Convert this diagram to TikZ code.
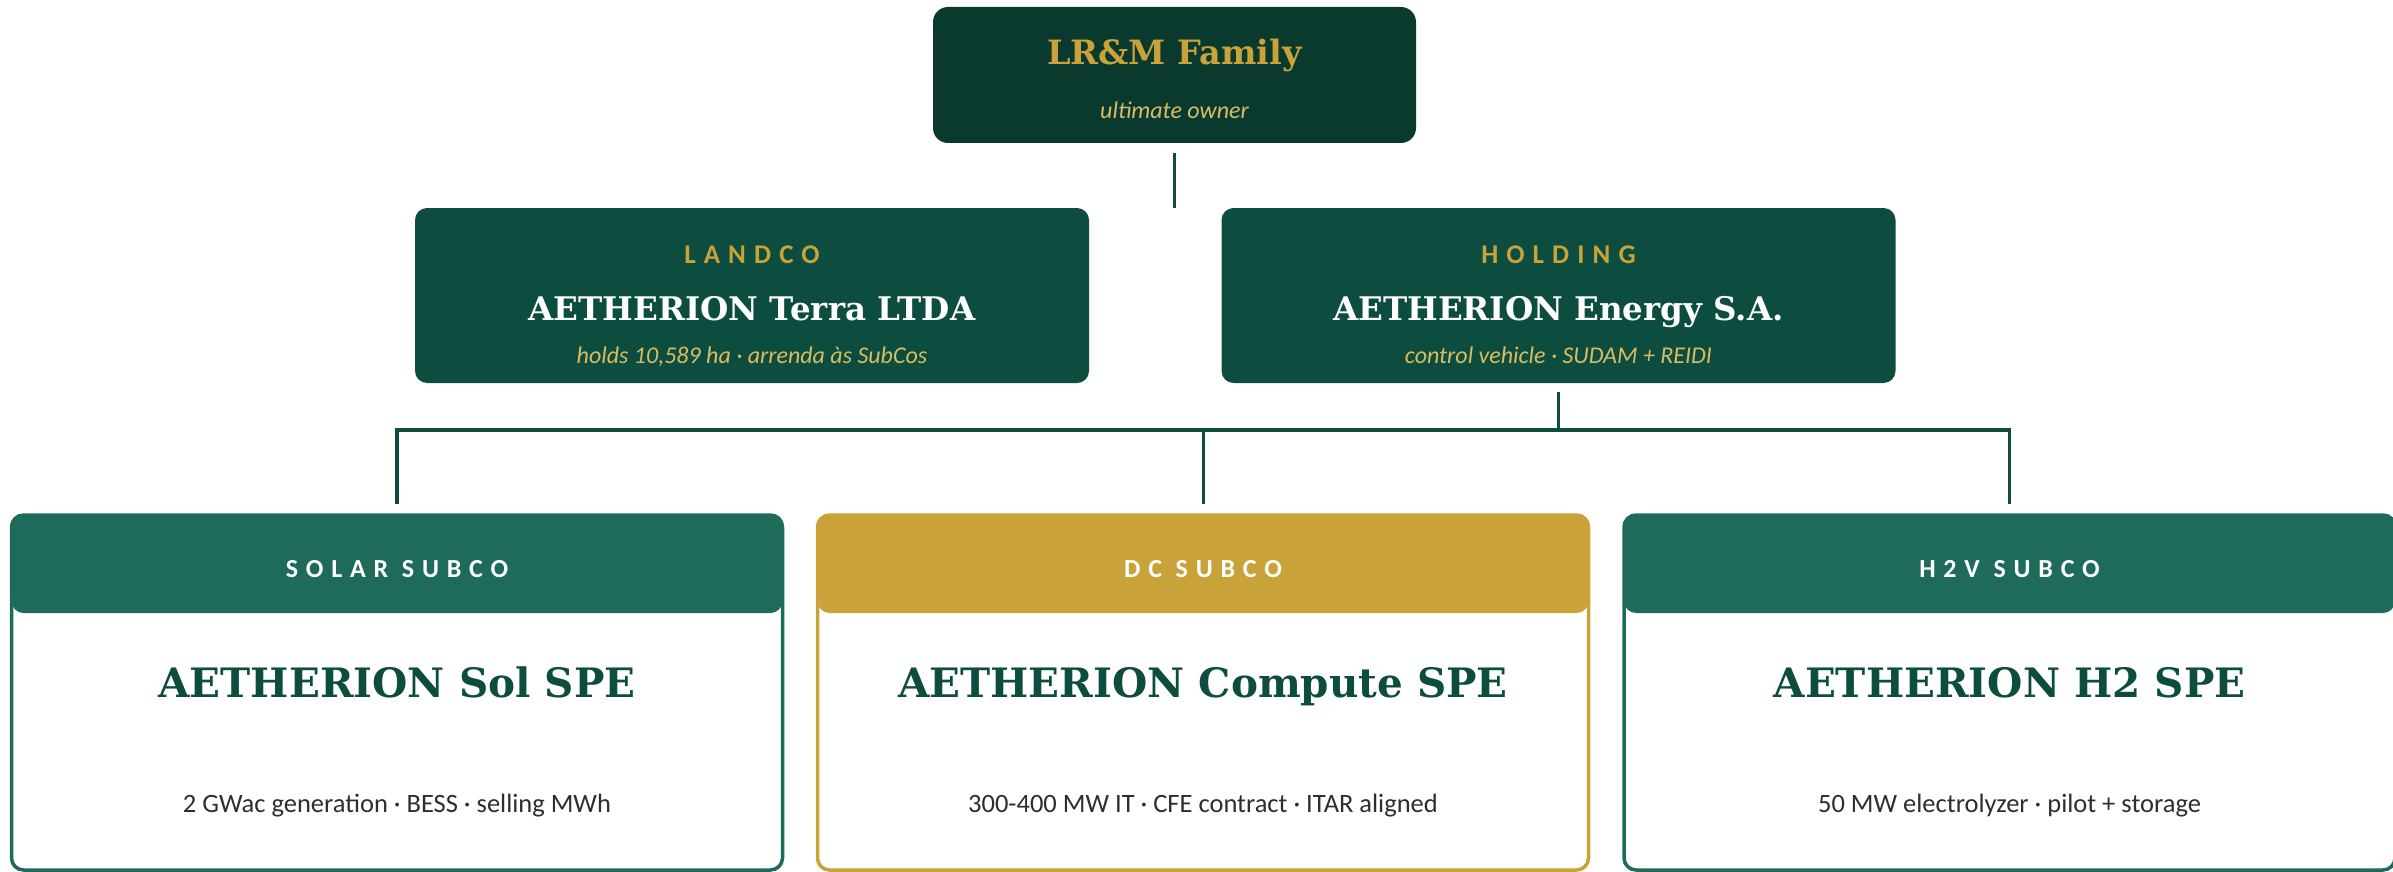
\documentclass[tikz,border=0pt]{standalone}
\usepackage{fontspec}
\setmainfont{Carlito}
\newfontfamily\titleserif{DejaVu Serif}
\usepackage{xcolor}
\usepackage{tikz}
\usetikzlibrary{positioning,calc}

\definecolor{ownergreen}{HTML}{0A3A2E}
\definecolor{deepgreen}{HTML}{0D4D3F}
\definecolor{tealgreen}{HTML}{1E6B5C}
\definecolor{gold}{HTML}{C9A23A}
\definecolor{palegold}{HTML}{D9BC62}
\definecolor{inkgray}{HTML}{2E2E2E}

\tikzset{
	link/.style = {draw=deepgreen, line width=3pt},
	ownerbox/.style = {
			rectangle, rounded corners=15pt,
			fill            = ownergreen,
			minimum width = 483pt,
			minimum height = 136pt,
		},
	entitybox/.style = {
			rectangle, rounded corners=12pt,
			fill            = deepgreen,
			minimum width = 674pt,
			minimum height = 175pt,
		},
	subcobox/.style = {
			rectangle, rounded corners=12pt,
			draw = #1, fill = white, line width=3.5pt,
			minimum width = 771pt,
			minimum height = 355pt,
			path picture={\fill[#1] (path picture bounding box.north west) rectangle ([yshift=-98pt]path picture bounding box.north east);},
		}
}
\tikzset{
	every node/.append style={inner sep=0pt, anchor=base},
	tag/.style = {font=\fontsize{#1}{#1}\selectfont\bfseries\addfontfeature{LetterSpace=30}},
	bigname/.style = {font=\titleserif\fontsize{#1}{#1}\selectfont\bfseries},
	note/.style = {font=\fontsize{#1}{#1}\selectfont\itshape, text=palegold},
	detail/.style = {font=\fontsize{26.5}{26.5}\selectfont, text=inkgray},
}

\begin{document}
\begin{tikzpicture}[x=1pt, y=-1pt]
	\useasboundingbox (0,0) rectangle (2393,872);

	\node[ownerbox, anchor=center] (family) at (1174.5,75) {};
	\node[bigname=33.5, text=gold] (familyname) at (1174.5,65) {LR\&M Family};
	\node[note=24] (familyrole) at (1174.5,119) {ultimate owner};
	\coordinate (stub) at (1174.5,208);
	\draw[link, line width=3.5pt, shorten <=10pt] (family.south) -- (stub);

	\node[entitybox, anchor=center] (landco) at (752,295.5) {};
	\node[tag=27, text=gold] (landcotag) at (752,263) {LANDCO};
	\node[bigname=32.5, text=white] (landconame) at (752,320) {AETHERION Terra LTDA};
	\node[note=24] (landconote) at (752,363) {holds 10,589 ha · arrenda às SubCos};

	\node[entitybox, anchor=center] (holding) at (1558.5,295.5) {};
	\node[tag=27, text=gold] (holdingtag) at (1558.5,263) {HOLDING};
	\node[bigname=32.5, text=white] (holdingname) at (1558.5,320) {AETHERION Energy S.A.};
	\node[note=24] (holdingnote) at (1558.5,363) {control vehicle · SUDAM + REIDI};

	\node[subcobox=tealgreen, anchor=center] (solar) at (397,692.5) {};
	\node[tag=26, text=white] (solartag) at (397,577) {SOLAR SUBCO};
	\node[bigname=40.5, text=deepgreen] (solarname) at (397,697) {AETHERION Sol SPE};
	\node[detail] (solarnote) at (397,812) {2 GWac generation · BESS · selling MWh};

	\node[subcobox=gold, anchor=center] (dc) at (1203,692.5) {};
	\node[tag=26, text=white] (dctag) at (1203,577) {DC SUBCO};
	\node[bigname=40.5, text=deepgreen] (dcname) at (1203,697) {AETHERION Compute SPE};
	\node[detail] (dcnote) at (1203,812) {300-400 MW IT · CFE contract · ITAR aligned};

	\node[subcobox=tealgreen, anchor=center] (h2v) at (2009.5,692.5) {};
	\node[tag=26, text=white] (h2vtag) at (2009.5,577) {H2V SUBCO};
	\node[bigname=40.5, text=deepgreen] (h2vname) at (2009.5,697) {AETHERION H2 SPE};
	\node[detail] (h2vnote) at (2009.5,812) {50 MW electrolyzer · pilot + storage};

	\coordinate (bus) at (1558.5,430);
	\draw[link, shorten <=9pt] (holding.south) -- (bus);
	\draw[link, line width=3.5pt, shorten <=9pt, shorten >=9pt] (solar.north) |- (bus) -| (h2v.north);
	\draw[link, shorten <=9pt] (dc.north) -- (dc.north |- bus);

\end{tikzpicture}
\end{document}
